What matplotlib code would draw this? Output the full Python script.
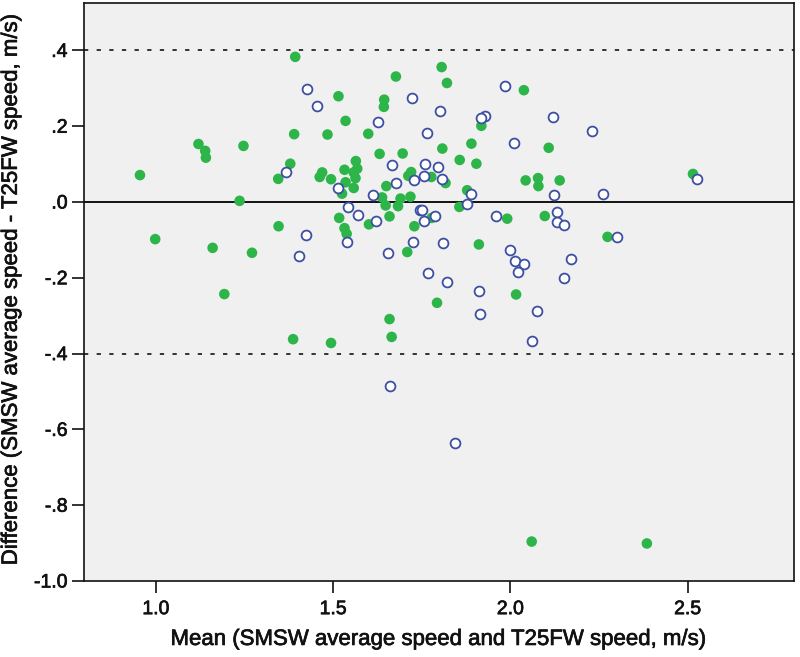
import matplotlib
matplotlib.use("Agg")
import matplotlib.pyplot as plt
import matplotlib.patheffects as pe
from matplotlib.ticker import FuncFormatter, FixedLocator

# Group 1 (filled green)
green_x = [0.955, 1.120, 1.139, 1.141, 1.247, 1.345, 1.236, 1.346,
           0.998, 1.160, 1.271, 1.193,
           1.393, 1.677, 1.515, 1.644, 1.643, 1.535, 1.390, 1.484, 1.599, 1.631,
           1.696, 1.379, 1.564, 1.568, 1.532, 1.558, 1.469, 1.462, 1.494, 1.563,
           1.535, 1.558, 1.525, 1.650, 1.720, 1.712, 1.638, 1.648, 1.690, 1.718,
           1.683, 1.659, 1.517, 1.601, 1.532, 1.729,
           1.538, 1.709, 1.659, 1.665, 1.387, 1.494,
           1.806, 1.821, 2.038, 1.918, 1.890, 1.808, 2.108, 1.857, 1.904, 1.777,
           1.817, 2.043, 2.078, 2.079, 2.139, 1.878, 1.856, 1.778, 1.991, 2.097,
           1.911, 1.793, 2.016, 2.515, 2.274, 2.060, 2.385]
green_y = [0.071, 0.153, 0.135, 0.117, 0.148, 0.061, 0.003, -0.064,
           -0.098, -0.121, -0.134, -0.243,
           0.383, 0.331, 0.279, 0.270, 0.251, 0.214, 0.179, 0.178, 0.180, 0.127,
           0.128, 0.101, 0.108, 0.088, 0.085, 0.078, 0.078, 0.066, 0.060, 0.063,
           0.052, 0.037, 0.022, 0.042, 0.079, 0.069, 0.012, -0.009, 0.009, 0.014,
           -0.011, -0.038, -0.042, -0.059, -0.069, -0.064,
           -0.084, -0.132, -0.309, -0.356, -0.362, -0.372,
           0.356, 0.314, 0.295, 0.201, 0.154, 0.141, 0.143, 0.111, 0.101, 0.066,
           0.050, 0.057, 0.063, 0.042, 0.057, 0.031, -0.013, -0.042, -0.044, -0.037,
           -0.112, -0.266, -0.244, 0.074, -0.092, -0.896, -0.901]

# Group 2 (open blue)
blue_x = [1.427, 1.455, 1.722, 1.626, 1.667, 1.368, 1.514, 1.677, 1.729, 1.613,
          1.543, 1.570, 1.620, 1.744,
          1.985, 1.801, 1.927, 1.918, 2.121, 1.764, 2.010, 1.760, 1.797, 1.756,
          1.808, 1.890, 1.878, 2.123, 1.752, 2.132, 1.786, 1.756, 1.960, 2.132,
          2.231, 2.262, 2.151, 2.525,
          1.423, 1.403, 1.540, 1.655, 1.726, 1.660,
          1.810, 1.999, 2.013, 2.038, 2.021, 1.767, 1.822, 1.911, 1.914, 2.074,
          2.062, 1.844, 2.151,
          2.302, 2.170]
blue_y = [0.297, 0.252, 0.275, 0.211, 0.098, 0.078, 0.037, 0.050, 0.059, 0.018,
          -0.012, -0.035, -0.050, -0.020,
          0.307, 0.239, 0.228, 0.221, 0.224, 0.182, 0.156, 0.099, 0.092, 0.068,
          0.060, 0.020, -0.004, 0.018, -0.020, -0.026, -0.038, -0.049, -0.037, -0.054,
          0.187, 0.021, -0.061, 0.060,
          -0.088, -0.143, -0.106, -0.134, -0.106, -0.486,
          -0.109, -0.126, -0.156, -0.164, -0.185, -0.188, -0.212, -0.236, -0.295, -0.287,
          -0.366, -0.636, -0.201,
          -0.092, -0.151]

mean_diff = 0.0
loa_upper = 0.40
loa_lower = -0.40

x_ticks = [1.0, 1.5, 2.0, 2.5]
y_ticks = [0.4, 0.2, 0.0, -0.2, -0.4, -0.6, -0.8, -1.0]

x_label = "Mean (SMSW average speed and T25FW speed, m/s)"
y_label = "Difference (SMSW average speed - T25FW speed, m/s)"

plt.rcParams['font.family'] = ['Liberation Sans', 'DejaVu Sans']

fig = plt.figure(figsize=(8.0, 6.57), dpi=100)
ax = fig.add_axes([0.1045, 0.1157, 0.888, 0.8797])
ax.set_facecolor('#f0f0f0')

ax.axhline(mean_diff, color='#111111', lw=1.4, zorder=1)
for v in (loa_upper, loa_lower):
    ax.axhline(v, color='#333333', lw=1.4, dashes=(2.2, 4.3), zorder=1)

ax.scatter(green_x, green_y, s=58, color='#2db54a', edgecolors='none', zorder=3)
ax.scatter(blue_x, blue_y, s=50, facecolors='white', edgecolors='#3d4fa3',
           linewidths=1.3, zorder=4)

ax.set_xlim(0.796, 2.8)
ax.set_ylim(-1.0, 0.525)

ax.xaxis.set_major_locator(FixedLocator(x_ticks))
ax.yaxis.set_major_locator(FixedLocator(y_ticks))

def fmt_y(v, pos):
    s = f"{v:.1f}"
    if s.startswith("0"):
        s = s[1:]
    elif s.startswith("-0"):
        s = "-" + s[2:]
    return s

ax.yaxis.set_major_formatter(FuncFormatter(fmt_y))
ax.xaxis.set_major_formatter(FuncFormatter(lambda v, p: f"{v:.1f}"))

ax.tick_params(axis='both', direction='out', length=8.5, width=1.2,
               labelsize=14, colors='#111111')
ax.tick_params(axis='x', pad=6)
ax.tick_params(axis='y', pad=3)
for sp in ax.spines.values():
    sp.set_color('#111111')
    sp.set_linewidth(1.2)

heavy = [pe.withStroke(linewidth=0.5, foreground='#111111')]
ax.set_xlabel(x_label, fontsize=16, color='#111111')
ax.set_ylabel(y_label, fontsize=16, color='#111111')
ax.xaxis.set_label_coords(0.5, -0.083)
ax.yaxis.set_label_coords(-0.087, 0.505)
ax.xaxis.label.set_path_effects(heavy)
ax.yaxis.label.set_path_effects(heavy)
for lab in ax.get_xticklabels() + ax.get_yticklabels():
    lab.set_path_effects(heavy)

fig.savefig("out.png", dpi=100)
